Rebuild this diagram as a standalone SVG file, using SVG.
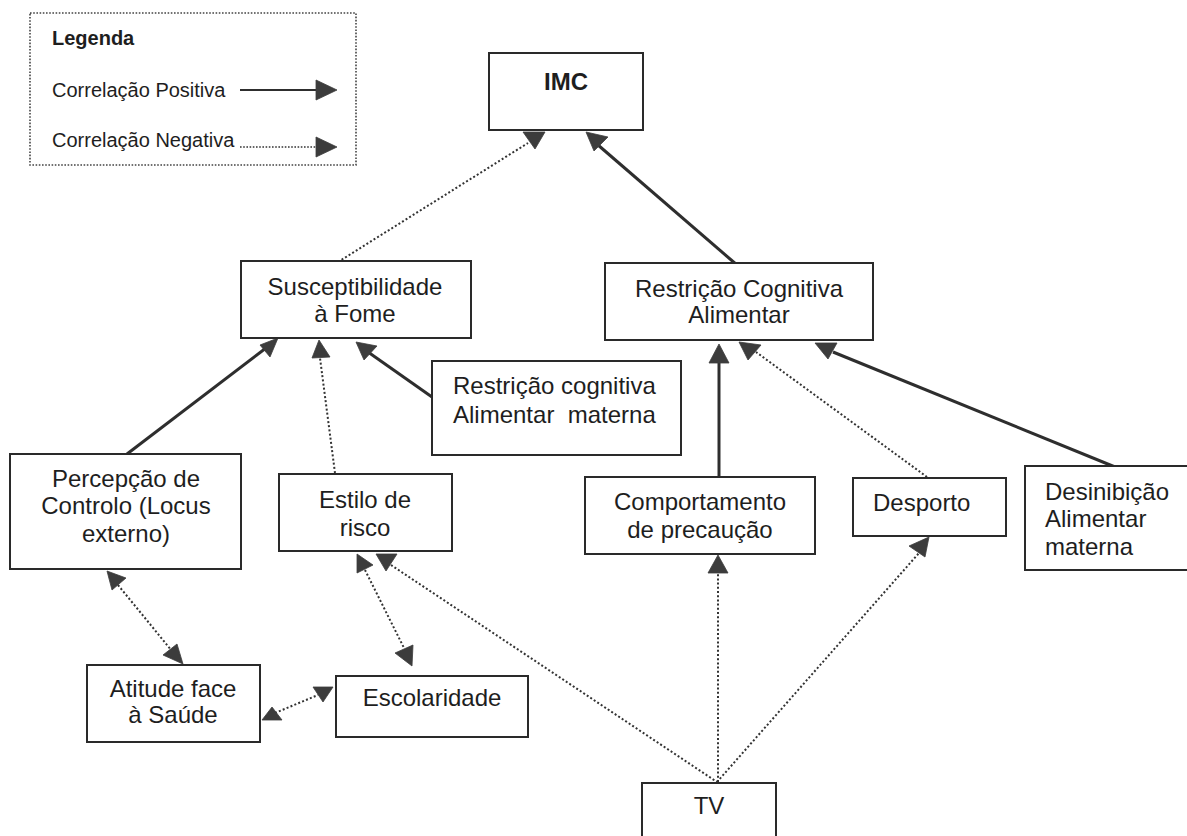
<svg xmlns="http://www.w3.org/2000/svg" width="1187" height="836" viewBox="0 0 1187 836">
  <style>
    .box { fill: #ffffff; stroke: #2a2a2a; stroke-width: 2; }
    .lbl { font-family: "Liberation Sans", Arial, sans-serif; font-size: 24px; fill: #1e1e1e; }
    .mid { text-anchor: middle; }
    .leg { font-family: "Liberation Sans", Arial, sans-serif; font-size: 20px; fill: #1e1e1e; }
    .solid { fill: none; stroke: #2e2e2e; stroke-width: 3; }
    .dot { fill: none; stroke: #333333; stroke-width: 2; stroke-dasharray: 2 2.2; }
    .head { fill: #3c3c3c; stroke: #3c3c3c; stroke-width: 0.8; stroke-linejoin: round; }
  </style>

  <!-- Legend -->
  <g id="legenda">
    <rect x="30" y="13" width="326" height="152" fill="#ffffff" stroke="#444444" stroke-width="1.6" stroke-dasharray="1.6 1.6"/>
    <text x="52" y="45" class="leg" font-size="23.5" font-weight="bold">Legenda</text>
    <text x="52" y="97" class="leg">Correlação Positiva</text>
    <line x1="240" y1="90" x2="317" y2="90" stroke="#2e2e2e" stroke-width="2"/>
    <polygon class="head" points="316,80 337,90 316,100"/>
    <text x="52" y="147" class="leg">Correlação Negativa</text>
    <line x1="240" y1="147" x2="316" y2="147" stroke="#333333" stroke-width="1.6" stroke-dasharray="1.6 1.6"/>
    <polygon class="head" points="316,137 337,147 316,157"/>
  </g>

  <!-- Connectors -->
  <g id="connectors">
    <!-- into IMC -->
    <line class="dot" x1="338" y1="262" x2="528" y2="143"/>
    <polygon class="head" points="523,132 545,132 535,149"/>
    <line class="solid" x1="737" y1="265" x2="598" y2="145"/>
    <polygon class="head" points="586,132 608,137 594,151"/>

    <!-- into Susceptibilidade à Fome -->
    <line class="solid" x1="127" y1="454" x2="266" y2="348"/>
    <polygon class="head" points="278,338 260,345 270,357"/>
    <line class="dot" x1="335" y1="473" x2="320" y2="358"/>
    <polygon class="head" points="312,358 319,340 330,357"/>
    <line class="solid" x1="432" y1="397" x2="368" y2="352"/>
    <polygon class="head" points="356,342 377,346 364,360"/>

    <!-- into Restrição Cognitiva Alimentar -->
    <line class="solid" x1="719" y1="477" x2="719" y2="362"/>
    <polygon class="head" points="719,344 709,363 729,363"/>
    <line class="dot" x1="927" y1="477" x2="756" y2="352"/>
    <polygon class="head" points="739,342 761,345 748,360"/>
    <line class="solid" x1="1120" y1="469" x2="833" y2="352"/>
    <polygon class="head" points="815,343 837,343 828,359"/>

    <!-- Percepção de Controlo <-> Atitude face à Saúde -->
    <line class="dot" x1="118" y1="585" x2="172" y2="651"/>
    <polygon class="head" points="107,571 126,578 112,590"/>
    <polygon class="head" points="163,655 177,644 183,664"/>

    <!-- Estilo de risco <-> Escolaridade -->
    <line class="dot" x1="365" y1="570" x2="404" y2="648"/>
    <polygon class="head" points="357,554 373,565 357,573"/>
    <polygon class="head" points="395,653 413,645 412,666"/>

    <!-- Atitude face à Saúde <-> Escolaridade -->
    <line class="dot" x1="275" y1="713" x2="318" y2="695"/>
    <polygon class="head" points="262,720 272,707 282,720"/>
    <polygon class="head" points="313,687 333,687 323,702"/>

    <!-- from TV -->
    <line class="dot" x1="391" y1="565" x2="717" y2="782"/>
    <polygon class="head" points="376,554 397,554 386,571"/>
    <line class="dot" x1="718" y1="782" x2="718" y2="573"/>
    <polygon class="head" points="718,555 708,573 728,573"/>
    <line class="dot" x1="717" y1="782" x2="919" y2="553"/>
    <polygon class="head" points="909,546 929,537 925,557"/>
  </g>

  <!-- Nodes -->
  <g id="imc">
    <rect class="box" x="489" y="53" width="154" height="77"/>
    <text x="566" y="90" class="lbl mid" font-size="25.5" font-weight="bold">IMC</text>
  </g>

  <g id="susceptibilidade">
    <rect class="box" x="241" y="261" width="230" height="77"/>
    <text x="355" y="295" class="lbl mid">Susceptibilidade</text>
    <text x="355" y="322" class="lbl mid">à Fome</text>
  </g>

  <g id="restricao-cognitiva">
    <rect class="box" x="605" y="263" width="268" height="77"/>
    <text x="739" y="297" class="lbl mid">Restrição Cognitiva</text>
    <text x="739" y="323" class="lbl mid">Alimentar</text>
  </g>

  <g id="restricao-materna">
    <rect class="box" x="432" y="361" width="249" height="94"/>
    <text x="453" y="394" class="lbl">Restrição cognitiva</text>
    <text x="453" y="423" class="lbl" xml:space="preserve">Alimentar  materna</text>
  </g>

  <g id="percepcao-controlo">
    <rect class="box" x="10" y="454" width="231" height="115"/>
    <text x="126" y="487" class="lbl mid">Percepção de</text>
    <text x="126" y="514" class="lbl mid">Controlo (Locus</text>
    <text x="126" y="542" class="lbl mid">externo)</text>
  </g>

  <g id="estilo-risco">
    <rect class="box" x="279" y="474" width="173" height="77"/>
    <text x="365" y="508" class="lbl mid">Estilo de</text>
    <text x="365" y="536" class="lbl mid">risco</text>
  </g>

  <g id="comportamento">
    <rect class="box" x="585" y="477" width="230" height="77"/>
    <text x="700" y="510" class="lbl mid">Comportamento</text>
    <text x="700" y="538" class="lbl mid">de precaução</text>
  </g>

  <g id="desporto">
    <rect class="box" x="853" y="478" width="153" height="58"/>
    <text x="873" y="511" class="lbl">Desporto</text>
  </g>

  <g id="desinibicao">
    <rect class="box" x="1025" y="466" width="175" height="104"/>
    <text x="1045" y="500" class="lbl">Desinibição</text>
    <text x="1045" y="527" class="lbl">Alimentar</text>
    <text x="1045" y="555" class="lbl">materna</text>
  </g>

  <g id="atitude">
    <rect class="box" x="87" y="665" width="173" height="77"/>
    <text x="173" y="697" class="lbl mid">Atitude face</text>
    <text x="173" y="723" class="lbl mid">à Saúde</text>
  </g>

  <g id="escolaridade">
    <rect class="box" x="336" y="676" width="192" height="61"/>
    <text x="432" y="706" class="lbl mid">Escolaridade</text>
  </g>

  <g id="tv">
    <rect class="box" x="642" y="783" width="134" height="62"/>
    <text x="709" y="814" class="lbl mid" font-size="21">TV</text>
  </g>
</svg>
